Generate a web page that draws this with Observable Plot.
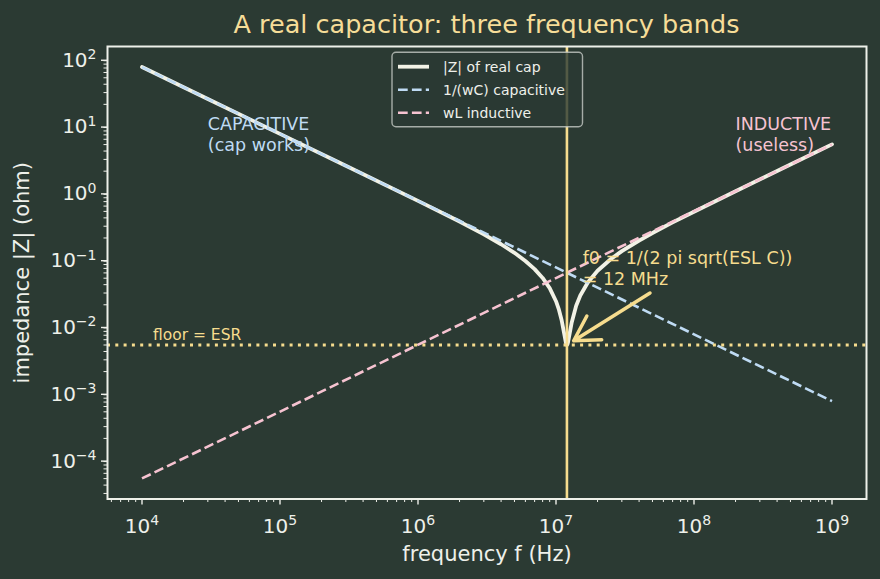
<!DOCTYPE html>
<html>
<head>
<meta charset="utf-8">
<script src="https://cdn.jsdelivr.net/npm/d3@7"></script>
<script src="https://cdn.jsdelivr.net/npm/@observablehq/plot@0.6"></script>
<style>
  html, body { margin: 0; padding: 0; background: #2b3a33; }
  body { width: 880px; height: 579px; overflow: hidden; font-family: "DejaVu Sans", sans-serif; }
  #title {
    height: 40px; box-sizing: border-box; padding: 9px 14px 0 107px;
    text-align: center; color: #f6dd98; font-size: 25.5px; line-height: 30px; white-space: nowrap;
  }
  #chart svg { display: block; overflow: visible; }
</style>
</head>
<body>
<div id="title">A real capacitor: three frequency bands</div>
<div id="chart"></div>
<script>
// Frequency sweep (Hz) and measured |Z| (ohm) of the real capacitor,
// sampled more densely around the series-resonance dip.
const freqHz = [1e4, 3e4, 1e5, 3e5, 1e6, 2e6, 3e6, 4e6, 5e6, 6e6, 7e6, 8e6, 9e6, 1e7,
  1.05e7, 1.1e7, 1.15e7, 1.18e7, 1.19e7, 1.2e7, 1.21e7, 1.22e7, 1.25e7, 1.3e7, 1.4e7,
  1.5e7, 1.7e7, 2e7, 2.5e7, 3e7, 4e7, 5e7, 7e7, 1e8, 2e8, 5e8, 1e9];
const zReal = [72.3, 24.1, 7.23, 2.41, 0.718, 0.352, 0.226, 0.161, 0.120, 0.0904, 0.0684, 0.0505, 0.0355, 0.0226,
  0.0169, 0.0116, 0.00714, 0.00538, 0.00510, 0.00500, 0.00511, 0.00540, 0.00704, 0.0109, 0.0194,
  0.0276, 0.0432, 0.0646, 0.0969, 0.127, 0.183, 0.237, 0.342, 0.495, 1.00, 2.51, 5.03];

// Ideal reactances at the ends of the sweep (straight lines on log-log axes)
const idealFreqHz = [1e4, 1e9];
const zCapacitive = [72.3, 7.23e-4];
const zInductive = [5.03e-5, 5.03];

// Resonance and series resistance
const resonanceHz = 1.2e7;
const esrOhm = 0.005;

// Axis ticks
const xTicks = [1e4, 1e5, 1e6, 1e7, 1e8, 1e9];
const yTicks = [1e-4, 1e-3, 1e-2, 1e-1, 1, 10, 100];
const xLabel = "frequency f (Hz)";
const yLabel = "impedance |Z| (ohm)";

// Annotations
const capNote = {f: 3e4, z: 4, text: "CAPACITIVE\n(cap works)"};
const indNote = {f: 2e8, z: 4, text: "INDUCTIVE\n(useless)"};
const resNote = {f: 1.56e7, z: 0.04, text: "f0 = 1/(2 pi sqrt(ESL C))\n= 12 MHz"};
const floorNote = {f: 1.2e4, z: 0.006, text: "floor = ESR"};
const resArrow = {f1: 4.8e7, z1: 0.03, f2: resonanceHz, z2: esrOhm};

// Legend entries
const legendLabels = ["|Z| of real cap", "1/(wC) capacitive", "wL inductive"];

const BG = "#2b3a33", INK = "#eef0ea", CREAM = "#f2f2e6";
const BLUE = "#bfdbf4", PINK = "#f6c3d1", GOLD = "#f6dc8e";

const xDomain = [10 ** 3.75, 10 ** 9.25];
const yDomain = [10 ** -4.606, 10 ** 2.167];

// Minor ticks at 2..9 × 10^e, kept inside the axis range
const minorTicks = (lo, hi, [a, b]) => {
  const out = [];
  for (let e = lo; e <= hi; e++) for (let m = 2; m <= 9; m++) {
    const v = m * 10 ** e;
    if (v >= a && v <= b) out.push(v);
  }
  return out;
};
const sup = d => "10^" + Math.round(Math.log10(d));

const realRows = freqHz.map((f, i) => ({f, z: zReal[i]}));
const capRows = idealFreqHz.map((f, i) => ({f, z: zCapacitive[i]}));
const indRows = idealFreqHz.map((f, i) => ({f, z: zInductive[i]}));

const note = (d, fill, size) => Plot.text([d], {
  x: "f", y: "z", text: "text", fill, fontSize: size,
  textAnchor: "start", lineAnchor: "bottom", lineHeight: 1.2
});

const plot = Plot.plot({
  width: 880, height: 539,
  marginLeft: 107, marginRight: 14, marginTop: 6, marginBottom: 80.5,
  style: {background: "transparent", color: INK, fontFamily: "DejaVu Sans, sans-serif"},
  x: {type: "log", domain: xDomain},
  y: {type: "log", domain: yDomain},
  marks: [
    Plot.line(realRows, {x: "f", y: "z", stroke: CREAM, strokeWidth: 3.8}),
    Plot.line(capRows, {x: "f", y: "z", stroke: BLUE, strokeWidth: 2.6, strokeDasharray: "9.7,4.2", strokeLinecap: "butt"}),
    Plot.line(indRows, {x: "f", y: "z", stroke: PINK, strokeWidth: 2.6, strokeDasharray: "9.7,4.2", strokeLinecap: "butt"}),
    Plot.ruleX([resonanceHz], {stroke: GOLD, strokeWidth: 2.6}),
    Plot.ruleY([esrOhm], {stroke: GOLD, strokeWidth: 3, strokeDasharray: "3,5.3"}),
    Plot.arrow([resArrow], {x1: "f1", y1: "z1", x2: "f2", y2: "z2", stroke: GOLD, strokeWidth: 3.5,
      headLength: 12, insetEnd: 8}),
    note(capNote, BLUE, 17.5),
    note(indNote, PINK, 17.5),
    note(resNote, GOLD, 17.5),
    note(floorNote, GOLD, 15.5),
    Plot.axisX(minorTicks(3, 9, xDomain), {tickSize: 3.5, strokeWidth: 1, tickFormat: () => "", label: null}),
    Plot.axisY(minorTicks(-5, 2, yDomain), {tickSize: 3.5, strokeWidth: 1, tickFormat: () => "", label: null}),
    Plot.axisX(xTicks, {tickSize: 6, tickPadding: 13.3, strokeWidth: 1.4, fontSize: 20, tickFormat: sup, label: null}),
    Plot.axisY(yTicks, {tickSize: 6, tickPadding: 5, strokeWidth: 1.4, fontSize: 20, tickFormat: sup, label: null, dy: 2.6}),
    Plot.text([xLabel], {frameAnchor: "bottom", dy: 61.5, fontSize: 21, fill: INK}),
    Plot.text([yLabel], {frameAnchor: "left", textAnchor: "middle", lineAnchor: "middle", dx: -85.7, rotate: -90, fontSize: 21, fill: INK}),
    Plot.frame({stroke: INK, strokeWidth: 2})
  ]
});

document.getElementById("chart").appendChild(plot);

// Typeset the tick exponents as raised, smaller digits
d3.select(plot).selectAll('g[aria-label="x-axis tick label"] text, g[aria-label="y-axis tick label"] text')
  .each(function () {
    const s = this.textContent;
    if (!s.includes("^")) return;
    const [base, exp] = s.split("^");
    const t = d3.select(this).text(base);
    t.append("tspan").attr("dy", -7.5).attr("font-size", 14).text(exp.replace("-", "\u2212"));
  });

// Legend box in the upper middle of the axes
const svg = d3.select(plot);
const lg = svg.append("g").attr("transform", "translate(392,12.3)");
lg.append("rect").attr("width", 190.5).attr("height", 74.5).attr("rx", 4)
  .attr("fill", BG).attr("fill-opacity", 0.8).attr("stroke", "#c5cbc6").attr("stroke-opacity", 0.8).attr("stroke-width", 1.4);
const swatches = [
  {stroke: CREAM, width: 3.8, dash: null},
  {stroke: BLUE, width: 2.6, dash: "9.7,4.2"},
  {stroke: PINK, width: 2.6, dash: "9.7,4.2"}
];
legendLabels.forEach((label, i) => {
  const y = 14.4 + i * 23;
  const s = swatches[i];
  lg.append("line").attr("x1", 6).attr("x2", 37).attr("y1", y).attr("y2", y)
    .attr("stroke", s.stroke).attr("stroke-width", s.width).attr("stroke-dasharray", s.dash);
  lg.append("text").attr("x", 51).attr("y", y).attr("dy", "0.35em").attr("text-anchor", "start")
    .attr("fill", INK).attr("font-size", 14).attr("font-family", "DejaVu Sans, sans-serif").text(label);
});
</script>
</body>
</html>
